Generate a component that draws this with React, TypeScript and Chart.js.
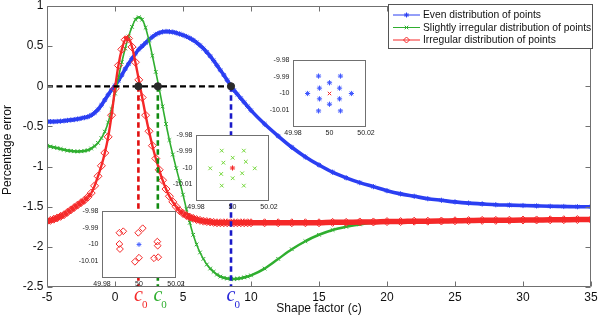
import React, { useEffect, useRef } from 'react';
import { Chart, registerables } from 'chart.js';
import { drawPoint } from 'chart.js/helpers';

Chart.register(...registerables);

// Shape factor grid (fine steps near the peaks, unit steps on the tail)
const SHAPE_FACTOR = [
  -5, -4.75, -4.5, -4.25, -4, -3.75, -3.5, -3.25, -3, -2.75,
  -2.5, -2.25, -2, -1.75, -1.5, -1.25, -1, -0.75, -0.5, -0.25,
  0, 0.25, 0.5, 0.75, 1, 1.25, 1.5, 1.75, 2, 2.25,
  2.5, 2.75, 3, 3.25, 3.5, 3.75, 4, 4.25, 4.5, 4.75,
  5, 5.25, 5.5, 5.75, 6, 6.25, 6.5, 6.75, 7, 7.25,
  7.5, 7.75, 8, 8.25, 8.5, 8.75, 9, 9.25, 9.5, 9.75,
  10, 11, 12, 13, 14, 15, 16, 17, 18, 19,
  20, 21, 22, 23, 24, 25, 26, 27, 28, 29,
  30, 31, 32, 33, 34, 35,
];

// Percentage error for each node layout
const EVEN_ERROR = [
  -0.44, -0.44, -0.44, -0.438, -0.435, -0.43, -0.425, -0.42, -0.415, -0.408,
  -0.4, -0.39, -0.38, -0.36, -0.33, -0.29, -0.235, -0.17, -0.105, -0.045,
  0.01, 0.07, 0.14, 0.215, 0.28, 0.345, 0.405, 0.46, 0.5, 0.54,
  0.58, 0.615, 0.645, 0.665, 0.678, 0.683, 0.68, 0.675, 0.665, 0.652,
  0.637, 0.62, 0.6, 0.575, 0.545, 0.51, 0.47, 0.425, 0.375, 0.32,
  0.26, 0.2, 0.14, 0.075, 0.01, -0.05, -0.1, -0.15, -0.2, -0.25,
  -0.3, -0.47, -0.62, -0.76, -0.88, -0.98, -1.07, -1.14, -1.2, -1.25,
  -1.3, -1.34, -1.37, -1.4, -1.42, -1.44, -1.455, -1.465, -1.475, -1.48,
  -1.485, -1.49, -1.495, -1.497, -1.5, -1.5,
];

const SLIGHT_ERROR = [
  -0.74, -0.75, -0.76, -0.77, -0.78, -0.79, -0.8, -0.805, -0.81, -0.812,
  -0.81, -0.805, -0.795, -0.775, -0.745, -0.705, -0.645, -0.565, -0.45, -0.285,
  -0.09, 0.11, 0.3, 0.47, 0.62, 0.74, 0.83, 0.86, 0.83, 0.73,
  0.57, 0.38, 0.18, -0.03, -0.25, -0.47, -0.67, -0.85, -1.02, -1.18,
  -1.35, -1.53, -1.7, -1.85, -1.97, -2.07, -2.15, -2.22, -2.27, -2.31,
  -2.345, -2.37, -2.385, -2.395, -2.4, -2.4, -2.397, -2.39, -2.38, -2.37,
  -2.355, -2.27, -2.15, -2.03, -1.93, -1.85, -1.79, -1.75, -1.72, -1.7,
  -1.695, -1.69, -1.688, -1.685, -1.683, -1.68, -1.678, -1.676, -1.674, -1.672,
  -1.67, -1.668, -1.666, -1.665, -1.664, -1.663,
];

const IRREGULAR_ERROR = [
  -1.68, -1.67, -1.655, -1.64, -1.62, -1.6, -1.57, -1.54, -1.51, -1.48,
  -1.45, -1.42, -1.38, -1.33, -1.24, -1.12, -0.99, -0.83, -0.63, -0.36,
  -0.03, 0.26, 0.46, 0.58, 0.595, 0.49, 0.3, 0.08, -0.14, -0.36,
  -0.56, -0.74, -0.9, -1.04, -1.17, -1.28, -1.37, -1.44, -1.5, -1.55,
  -1.585, -1.61, -1.63, -1.645, -1.66, -1.67, -1.68, -1.685, -1.69, -1.695,
  -1.7, -1.7, -1.7, -1.7, -1.7, -1.7, -1.7, -1.7, -1.7, -1.7,
  -1.7, -1.7, -1.7, -1.7, -1.7, -1.7, -1.695, -1.695, -1.69, -1.69,
  -1.685, -1.685, -1.68, -1.68, -1.678, -1.675, -1.673, -1.67, -1.67, -1.668,
  -1.666, -1.665, -1.663, -1.662, -1.66, -1.66,
];

const SERIES_NAMES = [
  'Even distribution of points',
  'Slightly irregular distribution of points',
  'Irregular distribution of points',
];

// Optimal shape factors (zero-error crossings)
const C0_IRREGULAR = 1.72;
const C0_SLIGHT = 3.15;
const C0_EVEN = 8.53;

// Node layouts shown in the small panels
const EVEN_NODES_X = [50.012, 49.988, 50.006, 49.994, 50.006, 49.994, 50, 50, 50.0055, 49.9945, 50.0055, 49.9945];
const EVEN_NODES_Y = [-10, -10, -9.9896, -9.9896, -10.0104, -10.0104, -9.9936, -10.0064, -9.9968, -9.9968, -10.0032, -10.0032];

const SLIGHT_NODES_X = [49.9941, 50.0062, 50.0001, 49.995, 50.0073, 49.9878, 50.0122, 49.9938, 50.0053, 50.0001, 49.9941, 50.0062];
const SLIGHT_NODES_Y = [-9.9895, -9.9895, -9.9938, -9.9968, -9.9962, -10.0002, -10.0002, -10.0036, -10.0032, -10.0062, -10.0107, -10.0107];

const IRREGULAR_NODES_X = [49.9894, 49.9915, 49.9996, 50.002, 49.9894, 49.9897, 50.0099, 50.0101, 49.9978, 50.0, 50.0081, 50.0104];
const IRREGULAR_NODES_Y = [-9.993, -9.9921, -9.993, -9.9903, -9.9997, -10.0027, -9.9983, -10.0007, -10.0103, -10.0079, -10.0082, -10.0076];

const CENTRE_X = [50];
const CENTRE_Y = [-10];

const INSET_X_TICKS = [49.98, 50, 50.02];
const INSET_Y_TICKS = [-10.01, -10, -9.99, -9.98];

const BLUE = '#2b3ff2';
const GREEN = '#2fae2f';
const RED = '#f52828';
const AXIS_GRAY = '#707070';
const SANS = '"Liberation Sans", Arial, Helvetica, sans-serif';
const SERIF = '"Liberation Serif", "Times New Roman", serif';

const fmt = (v: number | string) => String(Number(v));

// Thick band where the curve is flat (markers pile up), thinner line where it is steep
const bandWidth = (flat: number, steep: number) => (ctx: any) => {
  const dx = Math.abs(ctx.p1.x - ctx.p0.x) || 1e-6;
  const dy = Math.abs(ctx.p1.y - ctx.p0.y);
  const s = dy / dx;
  if (s < 0.5) return flat;
  if (s > 1.5) return steep;
  return flat + (steep - flat) * (s - 0.5);
};

const framePlugin = {
  id: 'matlabFrame',
  afterDraw(chart: any) {
    const { ctx, chartArea: a } = chart;
    const xs = chart.scales.x;
    const ys = chart.scales.y;
    ctx.save();

    // axes box with inward ticks on all four sides
    const L = Math.round(a.left) + 0.5;
    const R = Math.round(a.right) - 0.5;
    const T = Math.round(a.top) + 0.5;
    const B = Math.round(a.bottom) - 0.5;
    ctx.strokeStyle = AXIS_GRAY;
    ctx.lineWidth = 1;
    ctx.setLineDash([]);
    ctx.beginPath();
    ctx.rect(L, T, R - L, B - T);
    xs.ticks.forEach((t: any) => {
      const p = Math.round(xs.getPixelForValue(t.value)) + 0.5;
      ctx.moveTo(p, B); ctx.lineTo(p, B - 5);
      ctx.moveTo(p, T); ctx.lineTo(p, T + 5);
    });
    ys.ticks.forEach((t: any) => {
      const p = Math.round(ys.getPixelForValue(t.value)) + 0.5;
      ctx.moveTo(L, p); ctx.lineTo(L + 5, p);
      ctx.moveTo(R, p); ctx.lineTo(R - 5, p);
    });
    ctx.stroke();

    // c0 markers under the x axis
    const c0s = [
      { v: C0_IRREGULAR, color: RED },
      { v: C0_SLIGHT, color: GREEN },
      { v: C0_EVEN, color: '#2626d8' },
    ];
    c0s.forEach(({ v, color }) => {
      const px = xs.getPixelForValue(v);
      ctx.fillStyle = color;
      ctx.textAlign = 'center';
      ctx.textBaseline = 'alphabetic';
      ctx.font = `italic 20px ${SERIF}`;
      ctx.fillText('c', px, 300.5);
      ctx.textAlign = 'left';
      ctx.font = `11px ${SERIF}`;
      ctx.fillText('0', px + 3.5, 307.5);
    });

    // axis titles
    ctx.fillStyle = '#111';
    ctx.font = `12px ${SANS}`;
    ctx.textAlign = 'center';
    ctx.textBaseline = 'middle';
    ctx.fillText('Shape factor (c)', (a.left + a.right) / 2, 309);
    ctx.save();
    ctx.translate(10.5, 150);
    ctx.rotate(-Math.PI / 2);
    ctx.textBaseline = 'alphabetic';
    ctx.fillText('Percentage error', 0, 0);
    ctx.restore();

    // legend
    const lx = 388.5, ly = 4.5, lw = 204, lh = 44;
    ctx.fillStyle = '#fff';
    ctx.fillRect(lx, ly, lw, lh);
    ctx.strokeStyle = '#555';
    ctx.strokeRect(lx, ly, lw, lh);
    const entries = [
      { color: BLUE, style: 'star', r: 2.5 },
      { color: GREEN, style: 'crossRot', r: 2.5 },
      { color: RED, style: 'rectRot', r: 3 },
    ];
    const rows = [15, 27.5, 40];
    ctx.font = `10.3px ${SANS}`;
    entries.forEach((e, i) => {
      const y = rows[i];
      ctx.strokeStyle = e.color;
      ctx.lineWidth = 1;
      ctx.beginPath();
      ctx.moveTo(393, y); ctx.lineTo(420, y);
      ctx.stroke();
      ctx.fillStyle = 'rgba(0,0,0,0)';
      drawPoint(ctx, { pointStyle: e.style, radius: e.r, borderWidth: 1, rotation: 0 } as any, 406.5, y);
      ctx.fillStyle = '#111';
      ctx.textAlign = 'left';
      ctx.textBaseline = 'middle';
      ctx.fillText(SERIES_NAMES[i], 423, y + 0.5);
    });

    ctx.restore();
  },
};

function MainChart() {
  const ref = useRef<HTMLCanvasElement>(null);
  useEffect(() => {
    const canvas = ref.current;
    if (!canvas) return;
    const pts = (ys: number[]) => SHAPE_FACTOR.map((x, i) => ({ x, y: ys[i] }));
    const dashed = (data: { x: number; y: number }[], color: string, width: number, dash: number[], order: number) => ({
      data,
      borderColor: color,
      borderWidth: width,
      borderDash: dash,
      pointRadius: 0,
      tension: 0,
      fill: false,
      order,
    });
    const chart = new Chart(canvas, {
      type: 'line',
      data: {
        datasets: [
          {
            data: [C0_IRREGULAR, C0_SLIGHT, C0_EVEN].map((c) => ({ x: c, y: 0 })),
            showLine: false,
            pointRadius: 3.6,
            pointBackgroundColor: '#2a2a2a',
            pointBorderColor: '#2a2a2a',
            order: 0,
          } as any,
          dashed([{ x: -5, y: 0 }, { x: C0_EVEN, y: 0 }], '#000', 2.2, [6, 3.5], 1),
          dashed([{ x: C0_IRREGULAR, y: 0 }, { x: C0_IRREGULAR, y: -2.5 }], '#e01010', 2.6, [5.5, 3.5], 1),
          dashed([{ x: C0_SLIGHT, y: 0 }, { x: C0_SLIGHT, y: -2.5 }], '#118a11', 2.6, [5.5, 3.5], 1),
          dashed([{ x: C0_EVEN, y: 0 }, { x: C0_EVEN, y: -2.5 }], '#1a1ac8', 2.6, [5.5, 3.5], 1),
          {
            label: SERIES_NAMES[2],
            data: pts(IRREGULAR_ERROR),
            borderColor: RED,
            borderWidth: 5,
            segment: { borderWidth: bandWidth(5.5, 2.4) },
            pointStyle: 'rectRot',
            pointRadius: 4,
            pointBorderWidth: 1,
            pointBorderColor: RED,
            pointBackgroundColor: 'rgba(0,0,0,0)',
            cubicInterpolationMode: 'monotone',
            fill: false,
            order: 3,
          },
          {
            label: SERIES_NAMES[1],
            data: pts(SLIGHT_ERROR),
            borderColor: GREEN,
            borderWidth: 2,
            segment: { borderWidth: bandWidth(2.6, 1.6) },
            pointStyle: 'crossRot',
            pointRadius: 2.6,
            pointBorderWidth: 1,
            pointBorderColor: GREEN,
            cubicInterpolationMode: 'monotone',
            fill: false,
            order: 4,
          },
          {
            label: SERIES_NAMES[0],
            data: pts(EVEN_ERROR),
            borderColor: BLUE,
            borderWidth: 3.6,
            pointStyle: 'star',
            pointRadius: 2.6,
            pointBorderWidth: 1,
            pointBorderColor: BLUE,
            cubicInterpolationMode: 'monotone',
            fill: false,
            order: 5,
          },
        ],
      },
      options: {
        animation: false,
        responsive: false,
        devicePixelRatio: 1,
        events: [],
        layout: { padding: { top: 6, right: 9, left: 0, bottom: 0 } },
        plugins: { legend: { display: false }, tooltip: { enabled: false } },
        scales: {
          x: {
            type: 'linear',
            min: -5,
            max: 35,
            ticks: { stepSize: 5, padding: 3, color: '#111', font: { size: 12, family: SANS }, callback: (v: any) => fmt(v), maxRotation: 0 },
            grid: { display: false, drawTicks: false },
            border: { display: false },
            afterFit: (s: any) => { s.height = 31; s.paddingLeft = 0; s.paddingRight = 0; },
          },
          y: {
            type: 'linear',
            min: -2.5,
            max: 1,
            ticks: { stepSize: 0.5, padding: 3.5, color: '#111', font: { size: 12, family: SANS }, callback: (v: any) => fmt(v) },
            grid: { display: false, drawTicks: false },
            border: { display: false },
            afterFit: (s: any) => { s.width = 47; s.paddingTop = 0; s.paddingBottom = 0; },
          },
        },
      },
      plugins: [framePlugin],
    } as any);
    return () => chart.destroy();
  }, []);
  return <canvas ref={ref} width={600} height={318} style={{ position: 'absolute', left: 0, top: 0, width: 600, height: 318 }} />;
}

type InsetProps = {
  box: [number, number, number, number];
  nodesX: number[];
  nodesY: number[];
  nodeColor: string;
  nodeStyle: string;
  nodeRadius: number;
  centreColor: string;
  centreStyle: string;
  centreRadius: number;
};

const insetFramePlugin = {
  id: 'insetFrame',
  beforeDraw(chart: any) {
    const { ctx, chartArea: a } = chart;
    ctx.save();
    ctx.fillStyle = '#fff';
    ctx.fillRect(a.left, a.top, a.right - a.left, a.bottom - a.top);
    ctx.restore();
  },
  afterDraw(chart: any) {
    const { ctx, chartArea: a } = chart;
    ctx.save();
    ctx.strokeStyle = AXIS_GRAY;
    ctx.lineWidth = 1;
    ctx.strokeRect(Math.round(a.left) + 0.5, Math.round(a.top) + 0.5, Math.round(a.right - a.left) - 1, Math.round(a.bottom - a.top) - 1);
    ctx.restore();
  },
};

const PAD_L = 40;
const PAD_T = 6;
const PAD_R = 12;
const PAD_B = 14;

function NodeInset(props: InsetProps) {
  const ref = useRef<HTMLCanvasElement>(null);
  const [l, t, r, b] = props.box;
  const w = r - l + PAD_L + PAD_R;
  const h = b - t + PAD_T + PAD_B;
  useEffect(() => {
    const canvas = ref.current;
    if (!canvas) return;
    const chart = new Chart(canvas, {
      type: 'scatter',
      data: {
        datasets: [
          {
            data: CENTRE_X.map((x, i) => ({ x, y: CENTRE_Y[i] })),
            pointStyle: props.centreStyle,
            pointRadius: props.centreRadius,
            pointBorderWidth: 1,
            pointBorderColor: props.centreColor,
            pointBackgroundColor: 'rgba(0,0,0,0)',
          },
          {
            data: props.nodesX.map((x, i) => ({ x, y: props.nodesY[i] })),
            pointStyle: props.nodeStyle,
            pointRadius: props.nodeRadius,
            pointBorderWidth: 1,
            pointBorderColor: props.nodeColor,
            pointBackgroundColor: 'rgba(0,0,0,0)',
          },
        ],
      },
      options: {
        animation: false,
        responsive: false,
        devicePixelRatio: 1,
        events: [],
        layout: { padding: { top: PAD_T, right: PAD_R, left: 0, bottom: 0 } },
        plugins: { legend: { display: false }, tooltip: { enabled: false } },
        scales: {
          x: {
            type: 'linear',
            min: 49.98,
            max: 50.02,
            afterBuildTicks: (s: any) => { s.ticks = INSET_X_TICKS.map((v) => ({ value: v })); },
            ticks: { autoSkip: false, maxRotation: 0, padding: 2, color: '#222', font: { size: 7, family: SANS }, callback: (v: any) => fmt(v) },
            grid: { display: false, drawTicks: false },
            border: { display: false },
            afterFit: (s: any) => { s.height = PAD_B; s.paddingLeft = 0; s.paddingRight = 0; },
          },
          y: {
            type: 'linear',
            min: -10.02,
            max: -9.98,
            afterBuildTicks: (s: any) => { s.ticks = INSET_Y_TICKS.map((v) => ({ value: v })); },
            ticks: { autoSkip: false, padding: 3.5, color: '#222', font: { size: 7, family: SANS }, callback: (v: any) => fmt(v) },
            grid: { display: false, drawTicks: false },
            border: { display: false },
            afterFit: (s: any) => { s.width = PAD_L; s.paddingTop = 0; s.paddingBottom = 0; },
          },
        },
      },
      plugins: [insetFramePlugin],
    } as any);
    return () => chart.destroy();
  }, []);
  return (
    <canvas
      ref={ref}
      width={w}
      height={h}
      style={{ position: 'absolute', left: l - PAD_L, top: t - PAD_T, width: w, height: h }}
    />
  );
}

export default function App() {
  return (
    <div style={{ position: 'absolute', left: 0, top: 0, width: 600, height: 318, background: '#fff', overflow: 'hidden' }}>
      <MainChart />
      <NodeInset
        box={[293, 60, 366, 127]}
        nodesX={EVEN_NODES_X}
        nodesY={EVEN_NODES_Y}
        nodeColor="#3d55ff"
        nodeStyle="star"
        nodeRadius={2.6}
        centreColor={RED}
        centreStyle="crossRot"
        centreRadius={2.4}
      />
      <NodeInset
        box={[196, 135, 269, 201]}
        nodesX={SLIGHT_NODES_X}
        nodesY={SLIGHT_NODES_Y}
        nodeColor="#74d83a"
        nodeStyle="crossRot"
        nodeRadius={2.6}
        centreColor={RED}
        centreStyle="star"
        centreRadius={2.6}
      />
      <NodeInset
        box={[102, 211, 176, 278]}
        nodesX={IRREGULAR_NODES_X}
        nodesY={IRREGULAR_NODES_Y}
        nodeColor={RED}
        nodeStyle="rectRot"
        nodeRadius={3.4}
        centreColor="#4d66ff"
        centreStyle="star"
        centreRadius={2.4}
      />
    </div>
  );
}
